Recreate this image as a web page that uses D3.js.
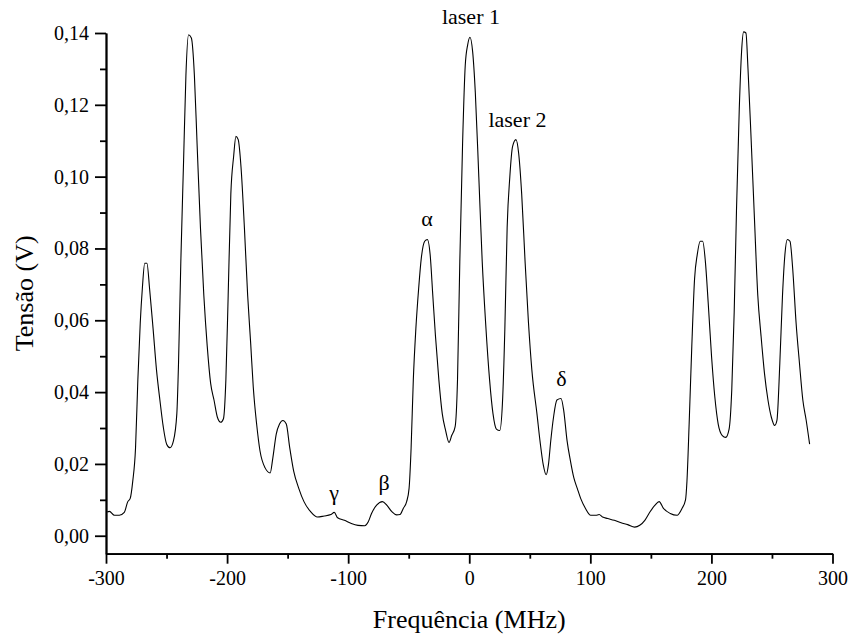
<!DOCTYPE html>
<html>
<head>
<meta charset="utf-8">
<title>Tensão vs Frequência</title>
<script src="https://d3js.org/d3.v7.min.js"></script>
<style>
  body { margin: 0; background: #fff; }
  svg { display: block; }
  .axis text { font-family: "Liberation Serif", "Times New Roman", serif; font-size: 20px; fill: #000; }
  .axis path, .axis line { stroke: #000; stroke-width: 1.8; }
  .title { font-family: "Liberation Serif", "Times New Roman", serif; font-size: 26px; fill: #000; }
  .note { font-family: "Liberation Serif", "Times New Roman", serif; font-size: 22px; fill: #000; }
</style>
</head>
<body>
<svg class="chart"></svg>
<script>
// frequency (MHz) and voltage (V)
var freqMHz = [
  -299, -297.2, -293, -289, -284.9, -282, -280, -277.9, -275.6, -273.7,
  -271.7, -270, -268, -266.2, -264, -261.1, -258.3, -255.5, -252.7, -249.9,
  -247.1, -244.3, -241.5, -240.1, -238.2, -235.9, -234, -231.8, -229.5, -227,
  -224.8, -222, -219.2, -216.4, -213.6, -210.8, -208, -205.3, -203, -201,
  -199.1, -196.9, -194.6, -192.7, -190.8, -188.5, -185.7, -183, -180.5, -178.4,
  -175.6, -172.8, -168.6, -164.4, -162.2, -159.4, -156.7, -153.9, -151.1, -148.3,
  -145, -140.8, -136.5, -131, -125.4, -119.9, -114.3, -111.5, -108.7, -103.1,
  -97.4, -91.9, -86.3, -83.5, -80.7, -76.5, -71.7, -68.1, -63.9, -60,
  -57.2, -54.5, -51.7, -49.7, -48, -46.2, -44.1, -41.8, -39.6, -36.8,
  -34.6, -32.3, -30.1, -27.9, -25.1, -22.3, -19.5, -16.7, -14.5, -11.7,
  -9.7, -7.8, -5.5, -3.3, -1.3, 0.6, 2.8, 5, 7.9, 10.7,
  13.5, 16.8, 19.6, 22.4, 25.2, 27.4, 29.4, 31.3, 33.5, 35.8,
  38.6, 40.8, 43.3, 46.1, 48.9, 51.7, 55.9, 58.5, 61.1, 63.5,
  65.4, 67.3, 69.6, 72.4, 75.8, 78, 80.8, 83.6, 86.4, 89.2,
  92, 96, 100.3, 104.5, 107.3, 110.1, 114.3, 119.8, 125.4, 130.9,
  136.6, 140.8, 145, 149.2, 153.4, 156.8, 160.4, 166, 171.6, 175.7,
  178.6, 179.8, 181.6, 183.8, 186.1, 188.3, 190.8, 192.8, 195, 197.3,
  200.1, 202.8, 205.6, 209, 211.8, 214.6, 216.8, 218.8, 220.7, 223,
  224.9, 226.6, 228.5, 230.2, 232.7, 235.5, 238.3, 241, 243.8, 246.7,
  249.5, 252.3, 254.1, 256.5, 258.7, 260.7, 262.7, 264.9, 267.1, 269.9,
  272.7, 275.5, 278.3, 281.1
];
var tensaoV = [
  0.0066, 0.0068, 0.0057, 0.0057, 0.0065, 0.0095, 0.0104, 0.0152, 0.0245, 0.0434,
  0.0594, 0.0688, 0.0759, 0.0759, 0.0688, 0.0576, 0.0462, 0.0378, 0.0303, 0.0255,
  0.0245, 0.0264, 0.0340, 0.0481, 0.0764, 0.1047, 0.1282, 0.1395, 0.1386, 0.1282,
  0.1093, 0.0858, 0.0669, 0.0528, 0.0425, 0.0378, 0.0330, 0.0316, 0.0326, 0.0434,
  0.0669, 0.0952, 0.1056, 0.1112, 0.1103, 0.1027, 0.0858, 0.0669, 0.0535, 0.0415,
  0.0311, 0.0236, 0.0189, 0.0175, 0.0217, 0.0283, 0.0311, 0.0321, 0.0311, 0.0246,
  0.0180, 0.0132, 0.0095, 0.0067, 0.0052, 0.0055, 0.0059, 0.0065, 0.0050, 0.0043,
  0.0034, 0.0029, 0.0028, 0.0038, 0.0062, 0.0085, 0.0095, 0.0085, 0.0067, 0.0058,
  0.0059, 0.0076, 0.0095, 0.0132, 0.0246, 0.0434, 0.0576, 0.0688, 0.0773, 0.0820,
  0.0825, 0.0783, 0.0669, 0.0556, 0.0434, 0.0340, 0.0293, 0.0260, 0.0279, 0.0303,
  0.0434, 0.0764, 0.1093, 0.1310, 0.1367, 0.1388, 0.1348, 0.1235, 0.0999, 0.0764,
  0.0594, 0.0434, 0.0340, 0.0297, 0.0293, 0.0368, 0.0576, 0.0858, 0.0999, 0.1084,
  0.1103, 0.1065, 0.0952, 0.0764, 0.0594, 0.0462, 0.0340, 0.0262, 0.0198, 0.0170,
  0.0198, 0.0264, 0.0330, 0.0378, 0.0382, 0.0349, 0.0264, 0.0208, 0.0161, 0.0132,
  0.0104, 0.0076, 0.0057, 0.0057, 0.0059, 0.0052, 0.0048, 0.0043, 0.0036, 0.0031,
  0.0024, 0.0029, 0.0043, 0.0066, 0.0085, 0.0095, 0.0076, 0.0062, 0.0057, 0.0076,
  0.0100, 0.0152, 0.0311, 0.0528, 0.0716, 0.0783, 0.0820, 0.0820, 0.0764, 0.0651,
  0.0500, 0.0387, 0.0311, 0.0279, 0.0274, 0.0297, 0.0406, 0.0622, 0.0905, 0.1188,
  0.1348, 0.1403, 0.1400, 0.1301, 0.1112, 0.0886, 0.0669, 0.0556, 0.0453, 0.0378,
  0.0330, 0.0307, 0.0321, 0.0481, 0.0669, 0.0783, 0.0825, 0.0820, 0.0745, 0.0594,
  0.0481, 0.0378, 0.0321, 0.0255
];

// ticks
var xMajor = [-300, -200, -100, 0, 100, 200, 300];
var xMinor = [-250, -150, -50, 50, 150, 250];
var yMajor = [0, 0.02, 0.04, 0.06, 0.08, 0.10, 0.12, 0.14];
var yMinor = [0.01, 0.03, 0.05, 0.07, 0.09, 0.11, 0.13];

// peak labels (anchor in data units)
var noteText = ["laser 1", "laser 2", "\u03b1", "\u03b4", "\u03b3", "\u03b2"];
var noteFreq = [1.4, 39.8, -34.9, 76.1, -111.7, -70.4];
var noteVolt = [0.1425, 0.1139, 0.0863, 0.0417, 0.0100, 0.0128];

var W = 848, H = 637;
var plotL = 106, plotR = 832.5, plotT = 33, plotB = 553.7;

var svg = d3.select(".chart").attr("width", W).attr("height", H);

var x = d3.scaleLinear().domain([-300, 300]).range([plotL, plotR]);
var y = d3.scaleLinear().domain([-0.005, 0.14]).range([plotB, plotT]);

var loc = d3.formatLocale({decimal: ",", thousands: ".", grouping: [3], currency: ["", ""], minus: "-"});
var fmtY = loc.format(".2f");
var fmtX = loc.format("d");

// minor ticks first, then major axes
svg.append("g").attr("class", "axis")
  .attr("transform", "translate(0," + plotB + ")")
  .call(d3.axisBottom(x).tickValues(xMinor).tickSize(5).tickSizeOuter(0).tickFormat(""));
svg.append("g").attr("class", "axis")
  .attr("transform", "translate(" + plotL + ",0)")
  .call(d3.axisLeft(y).tickValues(yMinor).tickSize(6).tickSizeOuter(0).tickFormat(""));

svg.append("g").attr("class", "axis")
  .attr("transform", "translate(0," + plotB + ")")
  .call(d3.axisBottom(x).tickValues(xMajor).tickSize(10).tickSizeOuter(0).tickPadding(7).tickFormat(fmtX));
svg.append("g").attr("class", "axis")
  .attr("transform", "translate(" + plotL + ",0)")
  .call(d3.axisLeft(y).tickValues(yMajor).tickSize(11).tickSizeOuter(0).tickPadding(6).tickFormat(fmtY));

// spectrum
var pts = freqMHz.map(function(f, i){ return [f, tensaoV[i]]; });
var line = d3.line()
  .x(function(d){ return x(d[0]); })
  .y(function(d){ return y(d[1]); })
  .curve(d3.curveMonotoneX);

svg.append("path")
  .datum(pts)
  .attr("d", line)
  .attr("fill", "none")
  .attr("stroke", "#000")
  .attr("stroke-width", 1.1);

// peak labels
svg.selectAll(".note")
  .data(noteText)
  .enter().append("text")
  .attr("class", "note")
  .attr("x", function(d, i){ return x(noteFreq[i]); })
  .attr("y", function(d, i){ return y(noteVolt[i]); })
  .attr("text-anchor", "middle")
  .text(function(d){ return d; });

// axis titles
svg.append("text")
  .attr("class", "title")
  .attr("x", (plotL + plotR) / 2)
  .attr("y", 628)
  .attr("text-anchor", "middle")
  .text("Frequência (MHz)");

svg.append("text")
  .attr("class", "title")
  .attr("transform", "translate(33," + ((plotT + plotB) / 2) + ") rotate(-90)")
  .attr("text-anchor", "middle")
  .text("Tensão (V)");
</script>
</body>
</html>
